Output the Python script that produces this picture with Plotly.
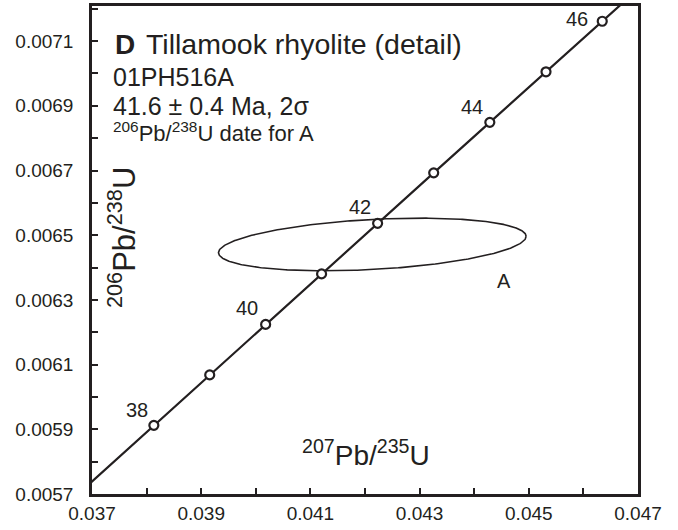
import numpy as np
import plotly.graph_objects as go

# ---- data ----
ages = [38, 39, 40, 41, 42, 43, 44, 45, 46]
pb207_u235 = [0.038133, 0.039156, 0.040180, 0.041205, 0.042231, 0.043258, 0.044286, 0.045315, 0.046345]
pb206_u238 = [0.0059122, 0.0060682, 0.0062243, 0.0063804, 0.0065366, 0.0066927, 0.0068488, 0.0070050, 0.0071613]
labeled_ages = [38, 40, 42, 44, 46]

# concordia curve extension ends (36 Ma and 47 Ma)
curve_x = [0.036091] + pb207_u235 + [0.047376]
curve_y = [0.0056001] + pb206_u238 + [0.0073175]

# analysis A error ellipse (2 sigma)
ell_cx, ell_cy = 0.042134, 0.0064713
ell_sx, ell_sy, ell_rho = 0.002817, 0.00008145, 0.31
ell_label = "A"

x_tickvals = [0.037, 0.039, 0.041, 0.043, 0.045, 0.047]
x_ticktext = ["0.037", "0.039", "0.041", "0.043", "0.045", "0.047"]
x_minorvals = [0.038, 0.040, 0.042, 0.044, 0.046]
y_tickvals = [0.0057, 0.0059, 0.0061, 0.0063, 0.0065, 0.0067, 0.0069, 0.0071]
y_ticktext = ["0.0057", "0.0059", "0.0061", "0.0063", "0.0065", "0.0067", "0.0069", "0.0071"]
y_minorvals = [0.0058, 0.0060, 0.0062, 0.0064, 0.0066, 0.0068, 0.0070, 0.0072]

INK = "#231f20"
FONT = "Liberation Sans, Arial, Helvetica, sans-serif"

fig = go.Figure()

# ellipse
t = np.linspace(0, 2 * np.pi, 400)
ex = ell_cx + ell_sx * np.cos(t)
ey = ell_cy + ell_sy * (ell_rho * np.cos(t) + np.sqrt(1 - ell_rho ** 2) * np.sin(t))
fig.add_trace(go.Scatter(x=ex, y=ey, mode="lines", line=dict(color=INK, width=1.6),
                         hoverinfo="skip", showlegend=False))

# concordia
fig.add_trace(go.Scatter(x=curve_x, y=curve_y, mode="lines", line=dict(color=INK, width=2.2),
                         hoverinfo="skip", showlegend=False))
fig.add_trace(go.Scatter(x=pb207_u235, y=pb206_u238, mode="markers",
                         marker=dict(symbol="circle", size=9, color="white",
                                     line=dict(color=INK, width=2.2)),
                         showlegend=False, cliponaxis=False))

ann = []
label_shift = {38: (-17, 15), 40: (-19, 16), 42: (-18, 16), 44: (-18, 15), 46: (-25, 2)}
for a in labeled_ages:
    i = ages.index(a)
    dx, dy = label_shift[a]
    ann.append(dict(x=pb207_u235[i], y=pb206_u238[i], xref="x", yref="y", text=str(a),
                    showarrow=False, xshift=dx, yshift=dy,
                    font=dict(size=20, color=INK, family=FONT)))

ann.append(dict(x=0.04455, y=0.006358, xref="x", yref="y", text=ell_label, showarrow=False,
                font=dict(size=20, color=INK, family=FONT)))

def px(xp):
    return (xp - 92) / 546.0

def py(yp):
    return (494 - yp) / 488.0

ann += [
    dict(x=px(113), y=py(44), xref="paper", yref="paper", xanchor="left", yanchor="middle",
         text="<b>D</b>", showarrow=False, font=dict(size=28, color=INK, family=FONT)),
    dict(x=px(144), y=py(44), xref="paper", yref="paper", xanchor="left", yanchor="middle",
         text="Tillamook rhyolite (detail)", showarrow=False, font=dict(size=28.5, color=INK, family=FONT)),
    dict(x=px(111), y=py(77), xref="paper", yref="paper", xanchor="left", yanchor="middle",
         text="01PH516A", showarrow=False, font=dict(size=25, color=INK, family=FONT)),
    dict(x=px(111), y=py(106), xref="paper", yref="paper", xanchor="left", yanchor="middle",
         text="41.6 ± 0.4 Ma, 2σ", showarrow=False, font=dict(size=25, color=INK, family=FONT)),
    dict(x=px(111), y=py(132), xref="paper", yref="paper", xanchor="left", yanchor="middle",
         text="<sup>206</sup>Pb/<sup>238</sup>U date for A", showarrow=False,
         font=dict(size=22, color=INK, family=FONT)),
    dict(x=px(366), y=py(453), xref="paper", yref="paper", xanchor="center", yanchor="middle",
         text="<sup>207</sup>Pb/<sup>235</sup>U", showarrow=False,
         font=dict(size=28, color=INK, family=FONT)),
    dict(x=px(122), y=py(238), xref="paper", yref="paper", xanchor="center", yanchor="middle",
         text="<sup>206</sup>Pb/<sup>238</sup>U", showarrow=False, textangle=-90,
         font=dict(size=31, color=INK, family=FONT)),
]

fig.update_layout(
    width=678, height=530,
    margin=dict(l=92, r=40, t=6, b=36, autoexpand=False),
    plot_bgcolor="white", paper_bgcolor="white",
    annotations=ann,
    font=dict(family=FONT, color=INK),
)
minor_style = dict(ticks="inside", ticklen=6, tickwidth=2, tickcolor=INK, showgrid=False,
                   tickmode="array")
fig.update_xaxes(range=[0.037, 0.047], tickvals=x_tickvals, ticktext=x_ticktext,
                 minor=dict(tickvals=x_minorvals, **minor_style),
                 ticks="inside", ticklen=6, tickwidth=2, tickcolor=INK,
                 showline=True, linecolor=INK, linewidth=2.5, mirror=True,
                 showgrid=False, zeroline=False, automargin=False,
                 tickfont=dict(size=19, color=INK, family=FONT))
fig.update_yaxes(range=[0.0057, 0.0072085], tickvals=y_tickvals, ticktext=y_ticktext,
                 minor=dict(tickvals=y_minorvals, **minor_style),
                 ticks="inside", ticklen=6, tickwidth=2, tickcolor=INK,
                 showline=True, linecolor=INK, linewidth=2.5, mirror=True,
                 showgrid=False, zeroline=False, automargin=False, ticklabelstandoff=12,
                 tickfont=dict(size=19, color=INK, family=FONT))

fig.write_html("out.html", config={"displayModeBar": False},
               post_script="document.body.style.margin='0px';")
